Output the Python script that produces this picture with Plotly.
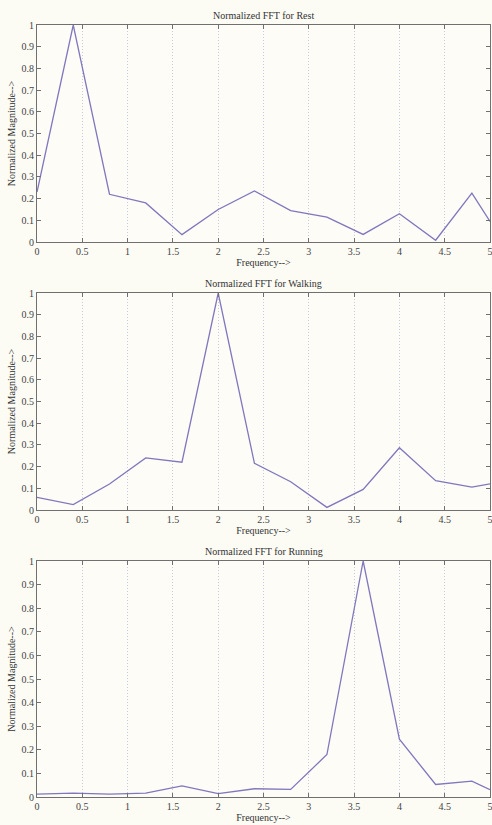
import plotly.graph_objects as go

freq = [0, 0.4, 0.8, 1.2, 1.6, 2.0, 2.4, 2.8, 3.2, 3.6, 4.0, 4.4, 4.8, 5.0]
rest = [0.23, 1.0, 0.22, 0.18, 0.034, 0.15, 0.235, 0.145, 0.115, 0.035, 0.13, 0.008, 0.225, 0.095]
walking = [0.058, 0.025, 0.12, 0.24, 0.22, 1.0, 0.215, 0.13, 0.012, 0.095, 0.287, 0.135, 0.105, 0.12]
running = [0.012, 0.016, 0.012, 0.016, 0.047, 0.014, 0.035, 0.032, 0.18, 1.0, 0.245, 0.053, 0.067, 0.031]

titles = ["Normalized FFT for Rest", "Normalized FFT for Walking", "Normalized FFT for Running"]
series = [rest, walking, running]

xticks = [0, 0.5, 1, 1.5, 2, 2.5, 3, 3.5, 4, 4.5, 5]
xticktext = ["0", "0.5", "1", "1.5", "2", "2.5", "3", "3.5", "4", "4.5", "5"]
yticks = [0, 0.1, 0.2, 0.3, 0.4, 0.5, 0.6, 0.7, 0.8, 0.9, 1]
yticktext = ["0", "0.1", "0.2", "0.3", "0.4", "0.5", "0.6", "0.7", "0.8", "0.9", "1"]

W, H = 492, 825
xdom = [37 / W, 490 / W]
panels = [(25, 242), (293, 510), (561, 797)]

FONT = "Liberation Serif"
LINE = "#8077bd"
AX = "#707070"

fig = go.Figure()
annotations = []
for i, (ys, title, (top, bot)) in enumerate(zip(series, titles, panels)):
    n = "" if i == 0 else str(i + 1)
    fig.add_trace(go.Scatter(x=freq, y=ys, mode="lines",
                             line=dict(color=LINE, width=1.3),
                             xaxis="x" + n, yaxis="y" + n, showlegend=False))
    ydom = [1 - bot / H, 1 - top / H]
    fig.layout["xaxis" + n] = dict(
        domain=xdom, range=[0, 5], anchor="y" + n,
        tickvals=xticks, ticktext=xticktext,
        showgrid=True, gridcolor="#c9c9e0", griddash="1px,2px", gridwidth=1,
        showline=True, linecolor=AX, linewidth=1, mirror="ticks",
        ticks="inside", ticklen=4, tickcolor=AX, zeroline=False,
        ticklabeloverflow="allow", automargin=False,
        tickfont=dict(family=FONT, size=10, color="#444"),
        title=dict(text="Frequency-->", font=dict(family=FONT, size=10, color="#333"), standoff=2),
    )
    fig.layout["yaxis" + n] = dict(
        domain=ydom, range=[0, 1], anchor="x" + n,
        tickvals=yticks, ticktext=yticktext,
        showgrid=False, zeroline=False,
        showline=True, linecolor=AX, linewidth=1, mirror="ticks",
        ticks="inside", ticklen=4, tickcolor=AX,
        ticklabeloverflow="allow", automargin=False,
        tickfont=dict(family=FONT, size=10, color="#444"),
        title=dict(text="Normalized Magnitude-->", font=dict(family=FONT, size=10, color="#333"), standoff=4),
    )
    annotations.append(dict(text=title, x=(xdom[0] + xdom[1]) / 2, y=ydom[1],
                            xref="paper", yref="paper", xanchor="center", yanchor="bottom",
                            showarrow=False, yshift=2,
                            font=dict(family=FONT, size=10, color="#333")))

fig.update_layout(
    width=W, height=H,
    margin=dict(l=0, r=0, t=0, b=0, autoexpand=False),
    paper_bgcolor="#fcfbf4", plot_bgcolor="#fdfcf7",
    annotations=annotations,
)

fig.write_html("out.html", config={"displayModeBar": False},
               post_script="document.body.style.margin='0';document.body.style.overflow='hidden';")
